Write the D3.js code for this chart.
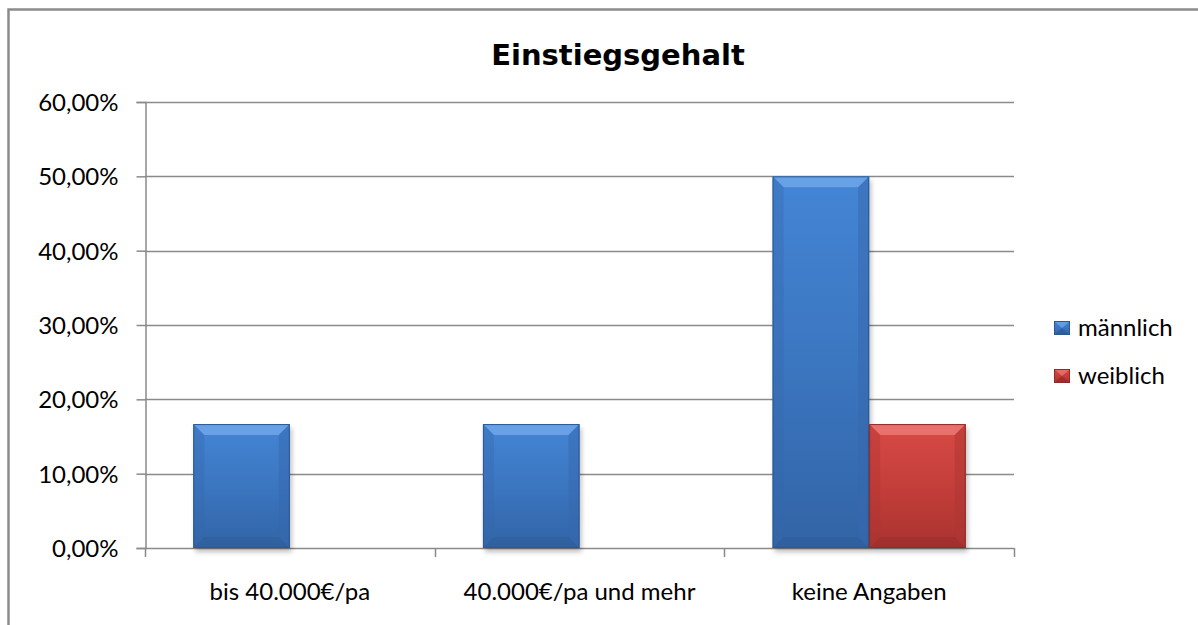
<!DOCTYPE html>
<html><head><meta charset="utf-8">
<script src="https://cdn.jsdelivr.net/npm/d3@7/dist/d3.min.js"></script>
<style>html,body{margin:0;padding:0;background:#fff;}svg{display:block;}</style>
</head><body>
<svg id="c" width="1198" height="625"></svg>
<script>
const categories = ["bis 40.000€/pa", "40.000€/pa und mehr", "keine Angaben"];
const seriesNames = ["männlich", "weiblich"];
const maennlich = [0.1667, 0.1667, 0.50];
const weiblich = [0, 0, 0.1667];
const yTicks = [0, 0.1, 0.2, 0.3, 0.4, 0.5, 0.6];
const chartTitle = "Einstiegsgehalt";

const svg = d3.select("#c");
const W = 1198, H = 625;
const m = {left: 145, right: 1014, top: 102, bottom: 548};
const font = "Lato, 'Open Sans', sans-serif";

const defs = svg.append("defs");
const palettes = {
  "männlich": {main: ["#4485d5", "#3b76c0", "#3264a6"], top: "#72a9ea", side: "#3668ad", bottom: "#2a5690", edge: "#2c5892"},
  "weiblich": {main: ["#d84a46", "#c43e3a", "#aa3330"], top: "#ee7a76", side: "#ae3532", bottom: "#8c2826", edge: "#8e2b28"}
};
seriesNames.forEach((s, i) => {
  const p = palettes[s];
  const g = defs.append("linearGradient").attr("id", "g" + i).attr("x1", 0).attr("y1", 0).attr("x2", 0).attr("y2", 1);
  g.append("stop").attr("offset", "0%").attr("stop-color", p.main[0]);
  g.append("stop").attr("offset", "50%").attr("stop-color", p.main[1]);
  g.append("stop").attr("offset", "100%").attr("stop-color", p.main[2]);
});
const f = defs.append("filter").attr("id", "sh").attr("x", "-20%").attr("y", "-20%").attr("width", "140%").attr("height", "140%");
f.append("feGaussianBlur").attr("stdDeviation", 2.5);

// outer border
svg.append("rect").attr("x", 8.5).attr("y", 9.5).attr("width", W + 40).attr("height", H + 40)
  .attr("fill", "none").attr("stroke", "#8c8c8c").attr("stroke-width", 2.5);

const x0 = d3.scaleBand().domain(categories).range([m.left, m.right]).paddingInner(0).paddingOuter(0);
const x1 = d3.scaleBand().domain(seriesNames).range([0, x0.bandwidth()]).paddingInner(0).paddingOuter(0.5);
const y = d3.scaleLinear().domain([0, 0.6]).range([m.bottom, m.top]);

// gridlines
svg.append("g").selectAll("line").data(yTicks.slice(1)).join("line")
  .attr("x1", m.left).attr("x2", m.right)
  .attr("y1", d => Math.round(y(d)) + 0.5).attr("y2", d => Math.round(y(d)) + 0.5)
  .attr("stroke", "#8a8a8a").attr("stroke-width", 1.5);

// y axis
const fmt = d => d3.format(".2f")(d * 100).replace(".", ",") + "%";
const ya = svg.append("g").attr("transform", `translate(${m.left + 0.5},0)`)
  .call(d3.axisLeft(y).tickValues(yTicks).tickFormat(fmt).tickSize(9).tickPadding(18));
ya.select(".domain").attr("stroke", "#8a8a8a").attr("stroke-width", 1.5);
ya.selectAll(".tick line").attr("stroke", "#8a8a8a").attr("stroke-width", 1.5);
ya.selectAll(".tick text").attr("font-family", font).attr("font-size", 24).attr("fill", "#000").attr("dy", "0.35em");

// x axis
const xa = svg.append("g").attr("transform", `translate(0,${m.bottom + 0.5})`)
  .call(d3.axisBottom(x0).tickSize(0).tickPadding(34));
xa.select(".domain").remove();
xa.selectAll(".tick text").attr("font-family", font).attr("font-size", 24).attr("fill", "#000");
const bounds = [m.left, ...categories.map(c => x0(c) + x0.bandwidth())];
svg.append("line").attr("x1", m.left).attr("x2", m.right).attr("y1", m.bottom + 0.5).attr("y2", m.bottom + 0.5)
  .attr("stroke", "#8a8a8a").attr("stroke-width", 1.5);
svg.append("g").selectAll("line").data(bounds).join("line")
  .attr("x1", d => Math.round(d) + 0.5).attr("x2", d => Math.round(d) + 0.5)
  .attr("y1", m.bottom).attr("y2", m.bottom + 9)
  .attr("stroke", "#8a8a8a").attr("stroke-width", 1.5);

// bars
const data = [];
categories.forEach((c, ci) => {
  [maennlich, weiblich].forEach((arr, si) => {
    data.push({cat: c, s: seriesNames[si], si, v: arr[ci]});
  });
});
const bars = svg.append("g").selectAll("g").data(data.filter(d => d.v > 0)).join("g");
bars.each(function(d) {
  const g = d3.select(this);
  const p = palettes[d.s];
  const bx = x0(d.cat) + x1(d.s), bw = x1.bandwidth();
  const by = y(d.v), bh = y(0) - y(d.v);
  const b = 11;
  g.append("rect").attr("x", bx + 2).attr("y", by + 4).attr("width", bw).attr("height", bh)
    .attr("fill", "#000").attr("opacity", 0.25).attr("filter", "url(#sh)");
  g.append("rect").attr("x", bx).attr("y", by).attr("width", bw).attr("height", bh).attr("fill", `url(#g${d.si})`);
  const bb = Math.min(b, bh / 2, bw / 2);
  const X0 = bx, X1 = bx + bw, Y0 = by, Y1 = by + bh;
  const poly = pts => "M" + pts.map(q => q.join(",")).join("L") + "Z";
  g.append("path").attr("d", poly([[X0, Y0], [X1, Y0], [X1 - bb, Y0 + bb], [X0 + bb, Y0 + bb]])).attr("fill", p.top).attr("opacity", 0.8);
  g.append("path").attr("d", poly([[X0, Y0], [X0 + bb, Y0 + bb], [X0 + bb, Y1 - bb], [X0, Y1]])).attr("fill", p.side).attr("opacity", 0.35);
  g.append("path").attr("d", poly([[X1, Y0], [X1, Y1], [X1 - bb, Y1 - bb], [X1 - bb, Y0 + bb]])).attr("fill", p.side).attr("opacity", 0.5);
  g.append("path").attr("d", poly([[X0, Y1], [X0 + bb, Y1 - bb], [X1 - bb, Y1 - bb], [X1, Y1]])).attr("fill", p.bottom).attr("opacity", 0.3);
  g.append("rect").attr("x", bx + 0.5).attr("y", by + 0.5).attr("width", bw - 1).attr("height", bh - 1)
    .attr("fill", "none").attr("stroke", p.edge).attr("stroke-width", 1);
});

// title
svg.append("text").attr("x", 618).attr("y", 65).attr("text-anchor", "middle")
  .attr("font-family", "'DejaVu Sans', Verdana, sans-serif").attr("font-weight", "bold").attr("font-size", 29)
  .attr("fill", "#000").text(chartTitle);

// legend
const lg = svg.append("g").selectAll("g").data(seriesNames).join("g")
  .attr("transform", (d, i) => `translate(1054,${321 + i * 48})`);
lg.each(function(d, i) {
  const g = d3.select(this);
  const p = palettes[d];
  const w = 16, h = 14;
  g.append("rect").attr("width", w).attr("height", h).attr("fill", `url(#g${i})`);
  g.append("path").attr("d", `M0,0L${w},0L${w/2},${h/2}Z`).attr("fill", p.top).attr("opacity", 0.7);
  g.append("path").attr("d", `M0,${h}L${w},${h}L${w/2},${h/2}Z`).attr("fill", p.bottom).attr("opacity", 0.6);
  g.append("rect").attr("x", 0.5).attr("y", 0.5).attr("width", w - 1).attr("height", h - 1).attr("fill", "none").attr("stroke", p.edge);
  g.append("text").attr("x", 24).attr("y", 15).attr("font-family", font).attr("font-size", 24).attr("fill", "#000").text(d);
});
</script>
</body></html>
